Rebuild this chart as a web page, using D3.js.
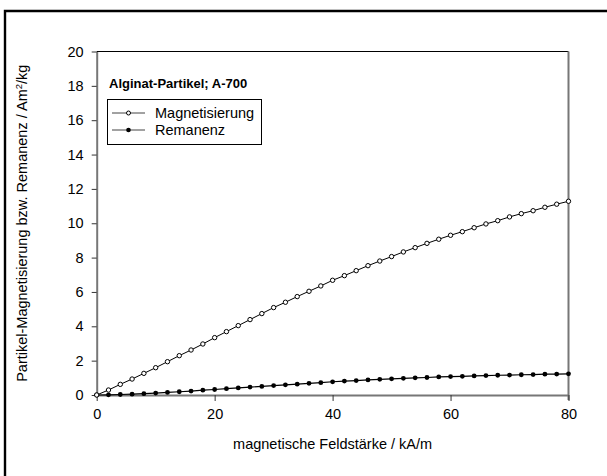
<!DOCTYPE html>
<html>
<head>
<meta charset="utf-8">
<script src="https://cdn.jsdelivr.net/npm/d3@7"></script>
<style>
  html, body { margin: 0; padding: 0; background: #fff; overflow: hidden; }
  svg { display: block; }
  text { font-family: Arial, "Liberation Sans", sans-serif; fill: #000; }
</style>
</head>
<body>
<svg id="chart" width="607" height="476"></svg>
<script>
// field strength in kA/m
const field = [0, 2, 4, 6, 8, 10, 12, 14, 16, 18, 20, 22, 24, 26, 28, 30, 32, 34, 36, 38, 40,
  42, 44, 46, 48, 50, 52, 54, 56, 58, 60, 62, 64, 66, 68, 70, 72, 74, 76, 78, 80];
// Am2/kg
const magnetisierung = [0, 0.29, 0.62, 0.93, 1.26, 1.59, 1.94, 2.29, 2.62, 2.97, 3.34, 3.69, 4.04, 4.39,
  4.74, 5.09, 5.40, 5.73, 6.04, 6.35, 6.68, 6.95, 7.24, 7.53, 7.80, 8.06, 8.33, 8.58, 8.83, 9.07,
  9.30, 9.51, 9.74, 9.96, 10.15, 10.37, 10.56, 10.73, 10.93, 11.11, 11.28];
const remanenz = [0, 0.01, 0.03, 0.05, 0.08, 0.11, 0.15, 0.19, 0.23, 0.28, 0.32, 0.37, 0.41, 0.46,
  0.50, 0.55, 0.59, 0.63, 0.68, 0.72, 0.77, 0.81, 0.84, 0.88, 0.91, 0.94, 0.97, 1.00, 1.02, 1.05,
  1.07, 1.09, 1.11, 1.13, 1.15, 1.16, 1.18, 1.19, 1.21, 1.22, 1.23];
const xTicks = [0, 20, 40, 60, 80];
const yTicks = [0, 2, 4, 6, 8, 10, 12, 14, 16, 18, 20];
const legendTitle = 'Alginat-Partikel; A-700';
const seriesNames = ['Magnetisierung', 'Remanenz'];

const svg = d3.select('#chart');

// outer frame: only its top and left edges fall inside the picture
svg.append('path')
  .attr('d', 'M5,476V11H607')
  .attr('fill', 'none').attr('stroke', '#000').attr('stroke-width', 2.4);

const plot = { left: 96.7, right: 568.5, top: 51.5, bottom: 395 };

const x = d3.scaleLinear().domain([0, 80]).range([plot.left, plot.right]);
const y = d3.scaleLinear().domain([0, 20]).range([plot.bottom, plot.top]);

// top and right frame lines
svg.append('line')
  .attr('x1', plot.left).attr('x2', plot.right)
  .attr('y1', plot.top).attr('y2', plot.top)
  .attr('stroke', '#000').attr('stroke-width', 1);
svg.append('line')
  .attr('x1', plot.right).attr('x2', plot.right)
  .attr('y1', plot.top).attr('y2', plot.bottom + 5)
  .attr('stroke', '#777').attr('stroke-width', 2);

// axes
const xAxis = svg.append('g')
  .attr('transform', `translate(0,${plot.bottom})`)
  .call(d3.axisBottom(x).tickValues(xTicks).tickSizeInner(6).tickSizeOuter(0).tickPadding(8));
const yAxis = svg.append('g')
  .attr('transform', `translate(${plot.left},0)`)
  .call(d3.axisLeft(y).tickValues(yTicks).tickSizeInner(5).tickSizeOuter(0).tickPadding(8));

for (const g of [xAxis, yAxis]) {
  g.select('.domain').attr('stroke', '#777').attr('stroke-width', 2);
  g.selectAll('.tick line').attr('stroke', '#333').attr('stroke-width', 1);
  g.selectAll('.tick text')
    .style('font-family', 'Arial, "Liberation Sans", sans-serif')
    .style('font-size', '14.5px').attr('fill', '#000');
}

// axis titles
svg.append('text')
  .attr('x', (plot.left + plot.right) / 2).attr('y', 449)
  .attr('text-anchor', 'middle').style('font-size', '14.5px')
  .text('magnetische Feldstärke / kA/m');

const yTitle = svg.append('text')
  .attr('transform', `translate(27,${(plot.top + plot.bottom) / 2}) rotate(-90)`)
  .attr('text-anchor', 'middle').style('font-size', '14.5px');
yTitle.append('tspan').text('Partikel-Magnetisierung bzw. Remanenz / Am');
yTitle.append('tspan').attr('dy', -5).style('font-size', '9.5px').text('2');
yTitle.append('tspan').attr('dy', 5).text('/kg');

// series
const line = d3.line().x((d) => x(d[0])).y((d) => y(d[1]));
const magData = field.map((f, i) => [f, magnetisierung[i]]);
const remData = field.map((f, i) => [f, remanenz[i]]);

svg.append('path').datum(remData)
  .attr('d', line).attr('fill', 'none').attr('stroke', '#000').attr('stroke-width', 1.2);
svg.append('path').datum(magData)
  .attr('d', line).attr('fill', 'none').attr('stroke', '#000').attr('stroke-width', 1);

svg.append('g').selectAll('circle')
  .data(remData).join('circle')
  .attr('cx', (d) => x(d[0])).attr('cy', (d) => y(d[1]))
  .attr('r', 2.4).attr('fill', '#000');
svg.append('g').selectAll('circle')
  .data(magData).join('circle')
  .attr('cx', (d) => x(d[0])).attr('cy', (d) => y(d[1]))
  .attr('r', 2.2).attr('fill', '#fff').attr('stroke', '#000').attr('stroke-width', 1);

// legend
svg.append('text')
  .attr('x', 109).attr('y', 88)
  .style('font-size', '13px').style('font-weight', 'bold')
  .text(legendTitle);

svg.append('rect')
  .attr('x', 107.5).attr('y', 99.5).attr('width', 154).attr('height', 45)
  .attr('fill', '#fff').attr('stroke', '#000').attr('stroke-width', 1);

const legendRows = [113, 130];
seriesNames.forEach((name, i) => {
  const ly = legendRows[i];
  svg.append('line')
    .attr('x1', 112).attr('x2', 145).attr('y1', ly).attr('y2', ly)
    .attr('stroke', '#444').attr('stroke-width', 1);
  svg.append('circle')
    .attr('cx', 128.5).attr('cy', ly).attr('r', i === 0 ? 2 : 2.3)
    .attr('fill', i === 0 ? '#fff' : '#000')
    .attr('stroke', '#000').attr('stroke-width', i === 0 ? 1 : 0);
  svg.append('text')
    .attr('x', 155).attr('y', ly + 5)
    .style('font-size', '14.5px')
    .text(name);
});
</script>
</body>
</html>
